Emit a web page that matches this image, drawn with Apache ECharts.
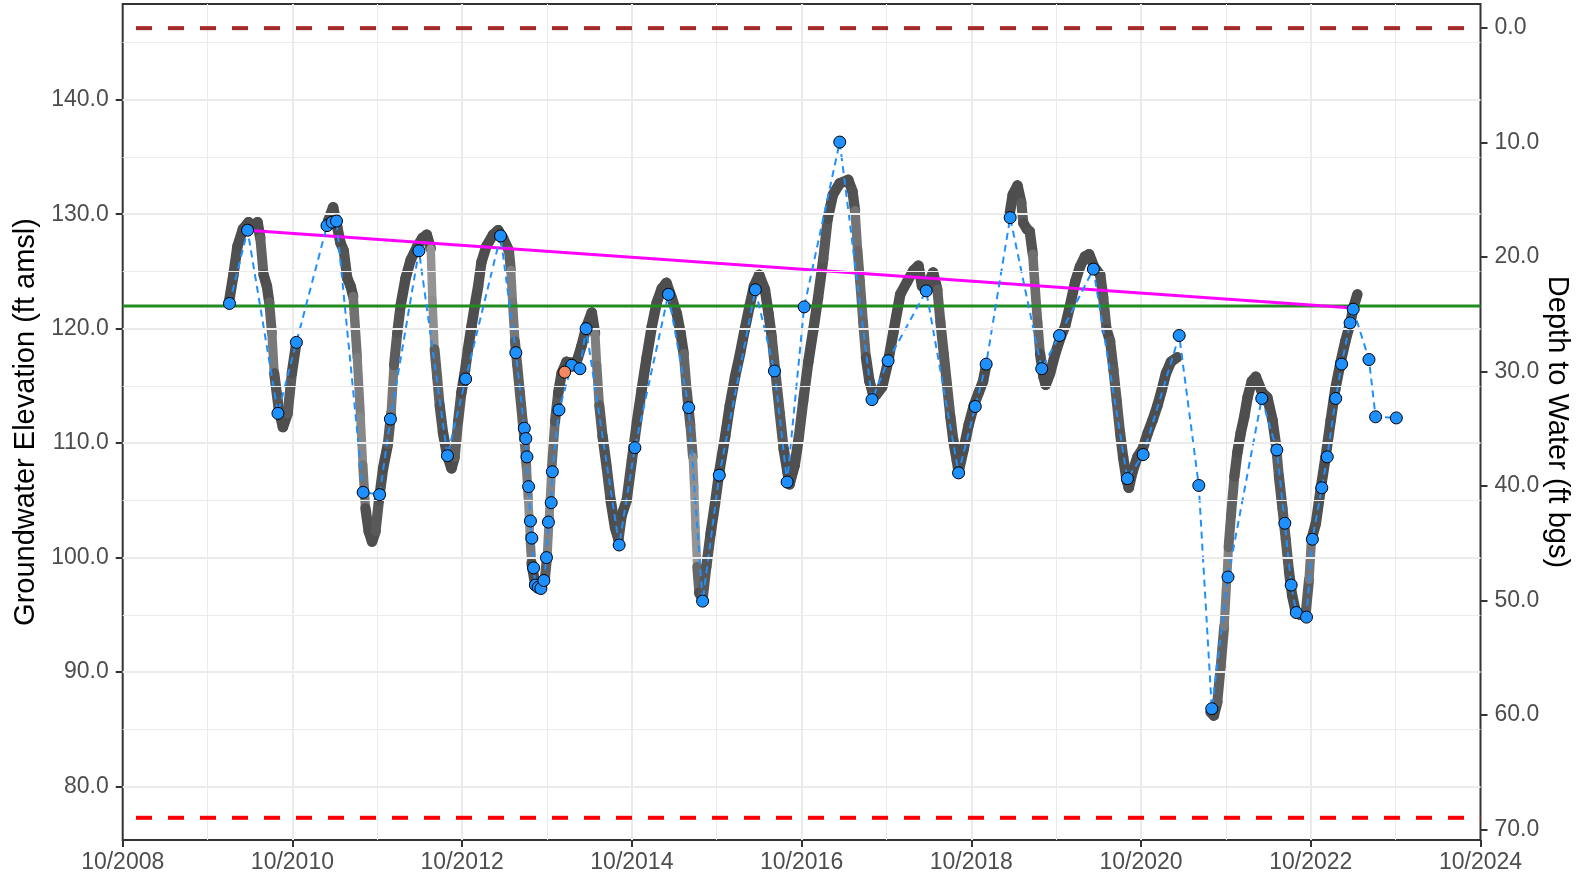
<!DOCTYPE html>
<html>
<head>
<meta charset="utf-8">
<script src="https://cdn.jsdelivr.net/npm/echarts@6.0.0/dist/echarts.min.js"></script>
<style>
  html, body { margin: 0; padding: 0; background: #fff; }
  #chart { width: 1579px; height: 880px; }
</style>
</head>
<body>
<div id="chart"></div>
<script>
// continuous logger record (ft amsl), null = gap in record
const loggerDates = [
  '2010-01-01','2010-01-21','2010-02-08','2010-03-01','2010-03-25','2010-04-15','2010-05-03','2010-05-15',
  '2010-05-29','2010-06-13','2010-06-23','2010-07-04','2010-07-14','2010-08-03','2010-08-21','2010-09-11',
  '2010-09-29','2010-10-18', null,
  '2011-03-02','2011-03-24','2011-04-11','2011-04-25','2011-05-09','2011-05-24','2011-06-08','2011-06-19',
  '2011-06-24','2011-07-06','2011-07-20','2011-07-30','2011-08-11','2011-08-25','2011-09-09','2011-09-24',
  '2011-10-08','2011-10-26','2011-11-16','2011-11-30','2011-12-12','2011-12-26','2012-01-10','2012-02-01',
  '2012-02-23','2012-03-21','2012-04-12','2012-05-01','2012-05-18','2012-05-25','2012-06-04','2012-06-15',
  '2012-06-26','2012-07-10','2012-07-27','2012-08-16','2012-08-30','2012-09-14','2012-09-28','2012-10-12',
  '2012-10-26','2012-11-11','2012-11-25','2012-12-09','2012-12-23','2013-01-14','2013-02-12','2013-03-04',
  '2013-03-25','2013-04-20','2013-04-28','2013-05-05','2013-05-15','2013-05-25','2013-06-06','2013-06-18',
  '2013-06-27','2013-07-04','2013-07-12','2013-07-19','2013-07-26','2013-08-10','2013-09-01','2013-09-22',
  '2013-10-02','2013-10-11','2013-10-21','2013-11-05','2013-11-19','2013-12-03','2013-12-24','2014-01-16',
  '2014-02-07','2014-02-28','2014-03-19','2014-04-11','2014-04-25','2014-05-02','2014-05-13','2014-05-27',
  '2014-06-15','2014-07-01','2014-07-20','2014-08-04','2014-08-18','2014-09-09','2014-10-01','2014-10-23',
  '2014-11-13','2014-12-04','2014-12-26','2015-01-17','2015-02-08','2015-02-28','2015-03-20','2015-04-12',
  '2015-04-28','2015-05-11','2015-05-25','2015-06-09','2015-06-20','2015-06-26','2015-07-01','2015-07-08',
  '2015-07-17','2015-08-01','2015-08-17','2015-09-05','2015-09-24','2015-10-12','2015-11-07','2015-11-27',
  '2015-12-19','2016-01-10','2016-01-30','2016-02-21','2016-03-09','2016-04-01','2016-04-26','2016-05-11',
  '2016-05-25','2016-06-09','2016-06-29','2016-07-15','2016-08-01','2016-08-10','2016-09-02','2016-09-20',
  '2016-10-08','2016-10-30','2016-11-21','2016-12-11','2017-01-03','2017-01-22','2017-02-14','2017-03-13',
  '2017-04-19','2017-05-07','2017-05-18','2017-05-29','2017-06-09','2017-06-22','2017-07-04','2017-07-19',
  '2017-08-03','2017-08-17','2017-09-13','2017-10-08','2017-10-30','2017-11-30','2017-12-29','2018-01-26',
  '2018-02-17','2018-03-02','2018-03-23','2018-04-19','2018-05-07','2018-05-20','2018-06-04','2018-06-18',
  '2018-07-02','2018-07-15','2018-07-30','2018-08-07','2018-08-29','2018-09-20','2018-10-12','2018-11-02',
  '2018-11-21','2018-12-04', null,
  '2019-03-13','2019-03-27','2019-04-17','2019-05-03','2019-05-12','2019-05-27','2019-06-09','2019-06-22',
  '2019-07-01','2019-07-12','2019-07-23','2019-08-07','2019-08-17','2019-09-05','2019-09-27','2019-10-19',
  '2019-11-09','2019-11-30','2019-12-22','2020-01-12','2020-02-03','2020-02-21','2020-03-12','2020-04-08',
  '2020-04-21','2020-05-05','2020-05-20','2020-06-04','2020-06-18','2020-07-02','2020-07-15','2020-07-30',
  '2020-08-09','2020-08-25','2020-09-16','2020-10-08','2020-10-30','2020-11-20','2020-12-11','2020-12-30',
  '2021-01-17','2021-02-08','2021-03-05', null,
  '2021-07-26','2021-08-10','2021-08-25','2021-09-09','2021-09-24','2021-10-03','2021-10-12','2021-10-23',
  '2021-11-07','2021-11-20','2021-12-04','2021-12-19','2022-01-03','2022-01-21','2022-02-08','2022-03-05',
  '2022-03-27','2022-04-19','2022-05-03','2022-05-16','2022-06-01','2022-06-15','2022-06-29','2022-07-12',
  '2022-07-26','2022-08-17','2022-09-09','2022-09-24','2022-10-04','2022-10-23','2022-11-14','2022-12-04',
  '2022-12-26','2023-01-15','2023-02-08','2023-02-28','2023-03-20','2023-04-04','2023-04-19'
];
const loggerElev = [
  122.2,124.7,127.2,128.7,129.3,128.9,129.3,127.9,
  124.7,123.7,122.3,119.6,116.1,113.0,111.4,112.6,
  116.1,118.8, null,
  129.4,130.6,128.9,127.5,126.8,124.4,123.7,122.8,
  121.3,117.5,112.3,108.1,104.3,102.3,101.4,102.3,
  105.0,107.8,109.9,112.6,116.8,119.6,122.0,124.4,
  126.0,127.2,127.9,128.2,127.0,122.5,118.2,115.8,
  113.3,110.9,109.0,107.8,108.8,111.9,114.4,116.1,
  118.2,120.2,122.0,123.7,125.8,127.2,128.2,128.6,
  127.9,126.8,125.1,122.3,118.9,116.8,114.4,111.9,
  109.9,107.8,105.0,101.9,99.5,97.8,97.4,98.1,
  100.2,103.7,107.8,111.9,114.4,116.1,117.1,117.0,
  117.1,118.5,120.2,121.4,119.6,116.8,113.3,110.6,
  107.8,105.0,102.6,101.6,103.7,105.0,108.5,111.9,
  114.7,117.5,120.2,122.3,123.5,124.0,122.7,121.3,
  119.6,117.8,114.4,111.6,108.8,106.1,102.6,99.2,
  96.9,96.4,99.2,102.1,104.7,107.5,110.6,113.3,
  115.8,117.8,119.9,122.0,123.7,124.7,123.4,121.3,
  119.2,116.4,112.6,109.5,107.5,106.4,108.1,110.6,
  113.7,117.1,119.9,122.7,126.1,129.6,131.7,132.7,
  133.0,132.0,130.3,126.8,124.1,120.6,117.5,115.4,
  114.4,114.2,114.9,117.1,119.6,123.0,124.1,125.1,
  125.5,123.7,123.7,124.9,123.4,120.6,117.8,115.1,
  112.3,110.2,108.5,107.5,109.5,111.6,113.3,114.4,
  115.4,116.8, null,
  129.9,131.7,132.5,131.0,129.2,128.7,128.5,126.5,
  123.7,120.6,117.8,115.8,115.1,116.1,117.8,119.2,
  120.2,122.0,124.1,125.4,126.3,126.5,125.4,124.7,
  122.7,119.9,118.9,116.4,113.7,110.9,108.8,106.8,
  106.1,107.5,108.8,109.5,110.9,112.0,113.3,114.7,
  116.1,117.1,117.5, null,
  86.5,86.2,87.4,90.5,94.0,97.4,100.9,103.7,
  107.1,109.2,110.9,112.3,114.0,115.4,115.8,114.4,
  114.0,112.0,109.9,107.1,104.3,101.6,98.8,96.7,
  95.4,95.0,95.0,98.1,101.6,103.0,106.1,108.8,
  112.0,114.7,117.1,118.9,120.6,122.0,123.0
];

// manual measurements
const manualDates = [
  '2010-01-04','2010-03-21','2010-07-30','2010-10-18','2011-02-28','2011-03-20','2011-04-08','2011-08-01',
  '2011-10-11','2011-11-27','2012-03-28','2012-07-29','2012-10-16','2013-03-14','2013-05-19','2013-06-25',
  '2013-07-01','2013-07-06','2013-07-13','2013-07-21','2013-07-27','2013-08-04','2013-08-12','2013-08-24',
  '2013-09-05','2013-09-18','2013-09-29','2013-10-07','2013-10-19','2013-10-24','2013-11-22','2014-01-16',
  '2014-02-21','2014-03-17','2014-08-07','2014-10-14','2015-03-06','2015-06-02','2015-08-01','2015-10-12',
  '2016-03-15','2016-06-06','2016-07-30','2016-10-12','2017-03-13','2017-07-30','2017-10-08','2018-03-20',
  '2018-08-07','2018-10-18','2018-12-04','2019-03-16','2019-07-30','2019-10-15','2020-03-09','2020-08-03',
  '2020-10-10','2021-03-13','2021-06-06','2021-08-01','2021-10-10','2022-03-03','2022-05-07','2022-06-11',
  '2022-07-08','2022-07-30','2022-09-13','2022-10-08','2022-11-18','2022-12-11','2023-01-17','2023-02-12',
  '2023-03-18','2023-04-01','2023-06-08','2023-07-06','2023-10-04'
];
const manualElev = [
  122.2,128.6,112.6,118.8,129.0,129.3,129.4,105.7,
  105.5,112.1,126.8,108.9,115.6,128.1,117.9,111.3,
  110.4,108.8,106.2,103.2,101.7,99.1,97.6,97.4,
  97.3,98.0,100.0,103.1,104.8,107.5,112.9,116.8,
  116.5,120.0,101.1,109.6,123.0,113.1,96.2,107.2,
  123.4,116.3,106.6,121.9,136.3,113.8,117.2,123.3,
  107.4,113.2,116.9,129.7,116.5,119.4,125.2,106.9,
  109.0,119.4,106.3,86.8,98.3,113.9,109.4,103.0,
  97.6,95.2,94.8,101.6,106.1,108.8,113.9,116.9,
  120.5,121.7,117.3,112.3,112.2
];

// questionable measurement
const flaggedDates = ['2013-12-16'];
const flaggedElev = [116.2];

// trend between first and last spring highs
const trendDates = ['2010-03-21', '2023-04-01'];
const trendElev = [128.6, 121.8];

const groundSurface = 146.25;
const minThreshold = 77.27;
const objective = 121.97;

const elevTicks = [80, 90, 100, 110, 120, 130, 140];
const elevMinor = [85, 95, 105, 115, 125, 135, 145];
const depthTicks = [0, 10, 20, 30, 40, 50, 60, 70];

const yMin = 75.33, yMax = 148.36;
const font = 'Liberation Sans, Arial, sans-serif';

// x axis counts years from October 1st
function toT(s) {
  const p = s.split('-').map(Number);
  return p[0] + (p[1] - 1) / 12 + (p[2] - 1) / 365.25 - 0.75;
}

const loggerSegs = [];
let seg = [];
loggerDates.forEach((d, i) => {
  if (d === null) { if (seg.length) loggerSegs.push(seg); seg = []; return; }
  seg.push([toT(d), loggerElev[i]]);
});
if (seg.length) loggerSegs.push(seg);

const manual = manualDates.map((d, i) => [toT(d), manualElev[i]]);
const flagged = flaggedDates.map((d, i) => [toT(d), flaggedElev[i]]);
const trend = trendDates.map((d, i) => [toT(d), trendElev[i]]);

function hline(y, color, width, dashed) {
  return {
    type: 'line', data: [[2008, y], [2024, y]], symbol: 'none', silent: true, z: 3,
    lineStyle: { color: color, width: width, type: dashed ? [16, 16] : 'solid', dashOffset: dashed ? 18.7 : 0 }
  };
}

// daily logger circles look lighter where the record moves fast
function bandStyle(a, b) {
  const days = (b[0] - a[0]) * 365.25;
  const dx = (b[0] - a[0]) * 84.9, dy = (b[1] - a[1]) * 11.45;
  const step = Math.sqrt(dx * dx + dy * dy) / days;
  const k = Math.max(0, Math.min(1, (step - 1.5) / 4));
  const g = Math.round(78 + k * 70);
  return { color: 'rgb(' + g + ',' + g + ',' + g + ')', width: 10.5 - k * 2 };
}

const series = [];

// horizontal grid
series.push({
  type: 'line', data: [], silent: true, z: 1,
  markLine: {
    silent: true, symbol: 'none', label: { show: false }, animation: false,
    data: elevTicks.map(v => ({ yAxis: v, lineStyle: { color: '#ebebeb', width: 2, type: 'solid' } }))
      .concat(elevMinor.map(v => ({ yAxis: v, lineStyle: { color: '#ebebeb', width: 1, type: 'solid' } })))
  }
});

loggerSegs.forEach(s => {
  for (let i = 0; i < s.length - 1; i++) {
    const st = bandStyle(s[i], s[i + 1]);
    series.push({
      type: 'line', data: [s[i], s[i + 1]], symbol: 'none', silent: true, z: 2,
      lineStyle: { color: st.color, width: st.width, cap: 'round', join: 'round' }
    });
  }
});

series.push(hline(groundSurface, '#a52a2a', 4, true));
series.push(hline(minThreshold, '#ff0000', 4, true));
series.push(hline(objective, '#228b22', 3, false));

series.push({
  type: 'line', data: trend, symbol: 'none', silent: true, z: 3,
  lineStyle: { color: '#ff00ff', width: 3 }
});

series.push({
  type: 'line', data: manual, symbol: 'none', silent: true, z: 4,
  lineStyle: { color: '#1e90ff', width: 2, type: [7, 5] }
});

series.push({
  type: 'scatter', data: manual, symbol: 'circle', symbolSize: 12, z: 5,
  itemStyle: { color: '#1e90ff', borderColor: '#000', borderWidth: 1, opacity: 1 }
});

series.push({
  type: 'scatter', data: flagged, symbol: 'circle', symbolSize: 12, z: 5,
  itemStyle: { color: '#f4895f', borderColor: '#000', borderWidth: 1, opacity: 1 }
});

const chart = echarts.init(document.getElementById('chart'), null, { renderer: 'canvas' });

chart.setOption({
  animation: false,
  backgroundColor: '#fff',
  textStyle: { fontFamily: font },
  grid: {
    left: 122.7, right: 98.5, top: 4, bottom: 40, outerBoundsMode: 'none', containLabel: false,
    show: true, borderColor: '#333', borderWidth: 2, backgroundColor: 'transparent'
  },
  xAxis: {
    type: 'value', position: 'bottom', min: 2008, max: 2024, interval: 2,
    axisLine: { show: false, onZero: false },
    axisTick: { show: true, length: 7, lineStyle: { color: '#333', width: 2 } },
    axisLabel: { formatter: v => '10/' + v, fontSize: 23, color: '#4d4d4d', margin: 11, fontFamily: font },
    splitLine: { show: true, showMinLine: false, showMaxLine: false, lineStyle: { color: '#ebebeb', width: 2 } },
    minorTick: { show: false, splitNumber: 2 },
    minorSplitLine: { show: true, lineStyle: { color: '#ebebeb', width: 1 } }
  },
  yAxis: [{
    type: 'value', position: 'left', min: yMin, max: yMax,
    name: 'Groundwater Elevation (ft amsl)', nameLocation: 'middle', nameGap: 81, nameRotate: 90,
    nameTextStyle: { fontSize: 29, color: '#000', fontFamily: font },
    axisLine: { show: false, onZero: false },
    axisTick: { show: true, length: 7, lineStyle: { color: '#333', width: 2 }, customValues: elevTicks },
    axisLabel: { customValues: elevTicks, formatter: v => v.toFixed(1), fontSize: 23, color: '#4d4d4d', margin: 14, fontFamily: font },
    splitLine: { show: false }
  }, {
    type: 'value', position: 'right', inverse: true,
    min: groundSurface - yMax, max: groundSurface - yMin,
    name: 'Depth to Water (ft bgs)', nameLocation: 'middle', nameGap: 62, nameRotate: -90,
    nameMoveOverlap: false,
    nameTextStyle: { fontSize: 29, color: '#000', fontFamily: font },
    axisLine: { show: false, onZero: false },
    axisTick: { show: true, length: 7, lineStyle: { color: '#333', width: 2 }, customValues: depthTicks },
    axisLabel: { customValues: depthTicks, formatter: v => v.toFixed(1), fontSize: 23, color: '#4d4d4d', margin: 14, fontFamily: font },
    splitLine: { show: false }
  }],
  series: series
});
</script>
</body>
</html>
